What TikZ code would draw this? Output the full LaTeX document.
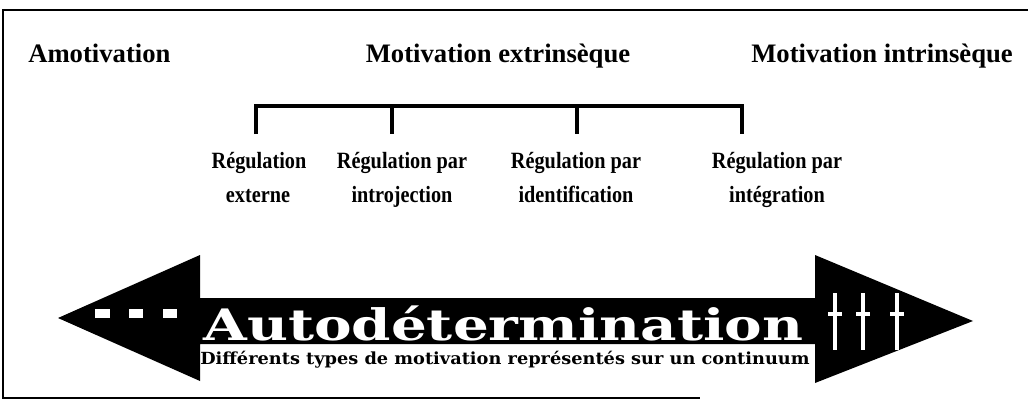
\documentclass[tikz,border=0pt]{standalone}
\usepackage{fontspec}
\setmainfont{Liberation Serif}
\newfontfamily\decofont{DejaVu Serif}
\newcommand\talltext[1]{\scalebox{1}[1.15]{#1}}
\begin{document}
\begin{tikzpicture}[x=0.75pt,y=-0.75pt,
  title/.style={font=\fontsize{20}{24}\selectfont\bfseries, anchor=base, inner sep=0pt},
  lab/.style={font=\fontsize{15.2}{18}\selectfont\bfseries, anchor=base, inner sep=0pt},
  frameline/.style={line width=2pt},
  brk/.style={line width=3pt},
  minusmark/.style={fill=white, draw=none},
  plusbar/.style={draw=white, line width=3.6pt},
]
\useasboundingbox (0,0) rectangle (1028,410);
% frame
\draw[frameline] (1028,10) -- (3,10) -- (3,398) -- (700,398);
% titles
\node[title, anchor=base west] (amot) at (28,63) {Amotivation};
\node[title] (extr) at (498,63) {Motivation extrinsèque};
\node[title, anchor=base east] (intr) at (1013,63) {Motivation intrinsèque};
% bracket
\coordinate (t1) at (256,106);
\coordinate (t2) at (392,106);
\coordinate (t3) at (577,106);
\coordinate (t4) at (742,106);
\coordinate (e1) at (256,134);
\coordinate (e2) at (392,134);
\coordinate (e3) at (577,134);
\coordinate (e4) at (742,134);
\draw[brk] (e1) -- (t1) -- (t4) -- (e4);
\draw[brk] (t2) -- (e2);
\draw[brk] (t3) -- (e3);
% labels
\node[lab] (r1a) at (259,168) {\talltext{Régulation}};
\node[lab] (r1b) at (258,202) {\talltext{externe}};
\node[lab] (r2a) at (402,168) {\talltext{Régulation par}};
\node[lab] (r2b) at (402,202) {\talltext{introjection}};
\node[lab] (r3a) at (576,168) {\talltext{Régulation par}};
\node[lab] (r3b) at (576,202) {\talltext{identification}};
\node[lab] (r4a) at (777,168) {\talltext{Régulation par}};
\node[lab] (r4b) at (777,202) {\talltext{intégration}};
% double arrow
\fill[black] (58,318) -- (200,255) -- (200,298) -- (815,298) -- (815,255)
  -- (973,321) -- (815,383) -- (815,344) -- (200,344) -- (200,381) -- cycle;
\node[text=white, anchor=base west, inner sep=0pt] (auto) at (203,340)
  {\resizebox{450pt}{26pt}{\decofont\bfseries Autodétermination}};
\node[anchor=base west, inner sep=0pt] (sub) at (200,364)
  {\resizebox{457pt}{10pt}{\decofont\bfseries Différents types de motivation représentés sur un continuum}};
% minus marks
\fill[minusmark] (95,309) rectangle (110,318);
\fill[minusmark] (129,309) rectangle (143,318);
\fill[minusmark] (163,309) rectangle (177,318);
% plus marks
\foreach \px in {835,863,897}{
  \draw[plusbar] (\px,293) -- (\px,350);
  \draw[plusbar, line width=3pt] (\px-7,314) -- (\px+7,314);
}
\end{tikzpicture}
\end{document}
